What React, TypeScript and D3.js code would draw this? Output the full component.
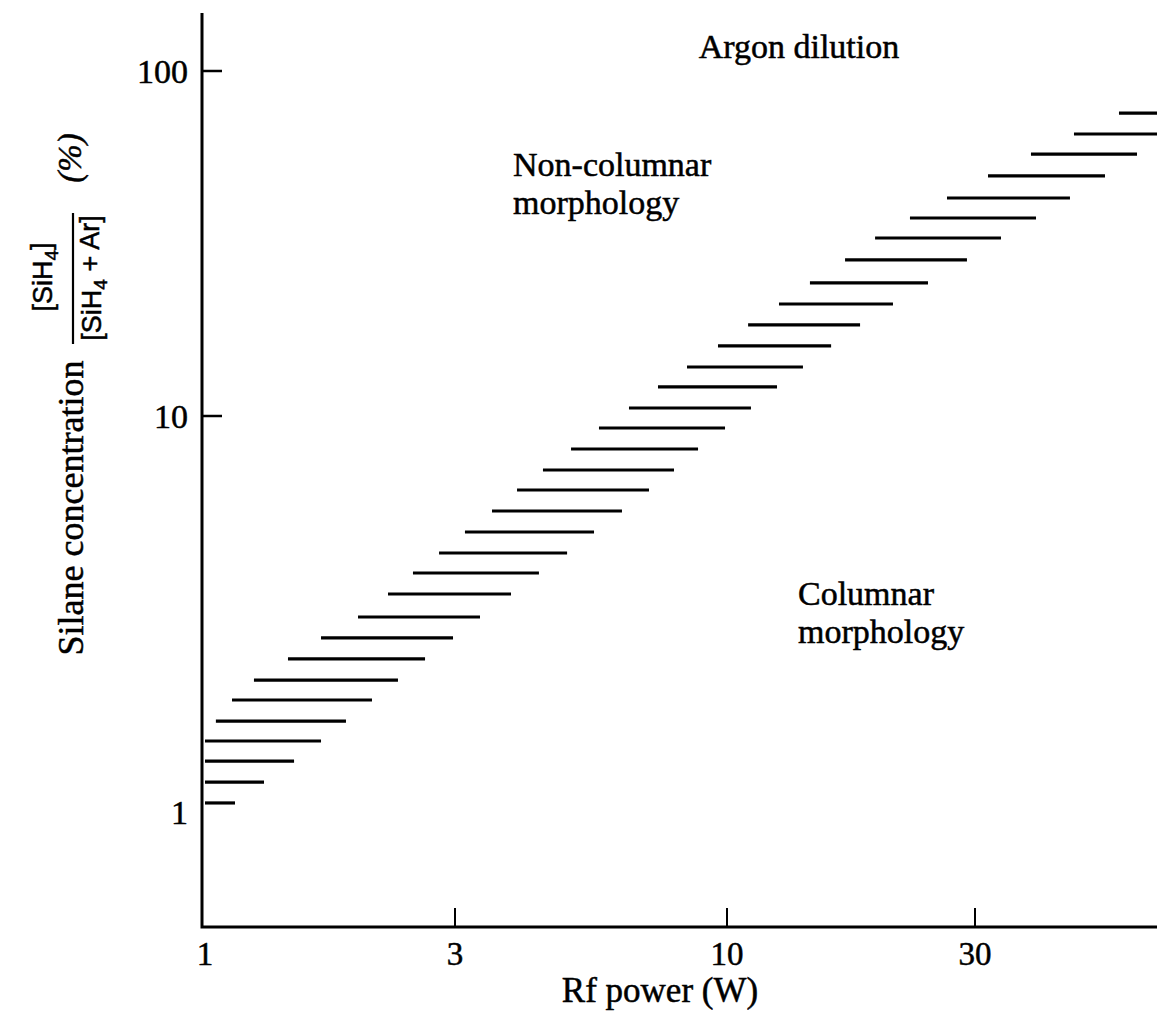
import React, { useEffect, useRef } from "react";
import * as d3 from "d3";

// axis ticks
const powerTicks = [1, 3, 10, 30];
const powerTickLabels = ["1", "3", "10", "30"];
const concTicks = [1, 10, 100];
const concTickLabels = ["1", "10", "100"];

// hatched boundary: one short dash per row (concentration %, from power W, to power W)
const hatchConc = [
  1.054, 1.19, 1.345, 1.511, 1.697, 1.918, 2.154, 2.435, 2.751, 3.108, 3.552, 4.014,
  4.508, 5.094, 5.756, 6.504, 7.305, 8.254, 9.326, 10.55, 12.14, 13.87, 15.96, 18.36,
  21.12, 24.3, 28.33, 32.81, 37.49, 42.84, 49.63, 57.45, 65.68, 75.54,
];
const hatchStart = [
  1.0, 1.0, 1.0, 1.0, 1.049, 1.126, 1.24, 1.44, 1.665, 1.959, 2.235, 2.494, 2.797,
  3.135, 3.534, 3.948, 4.428, 5.014, 5.674, 6.48, 7.368, 8.378, 9.609, 10.98, 12.59,
  14.44, 16.87, 19.27, 22.49, 26.5, 31.78, 38.44, 46.51, 56.77,
];
const hatchEnd = [
  1.141, 1.296, 1.479, 1.665, 1.858, 2.083, 2.335, 2.63, 2.974, 3.351, 3.844, 4.35,
  4.927, 5.551, 6.282, 7.08, 7.909, 8.797, 9.913, 11.12, 12.48, 14.0, 15.86, 18.03,
  20.86, 24.36, 28.95, 33.66, 39.31, 45.69, 53.36, 61.49, 79, 96,
];

const serif = "'Liberation Serif', 'Times New Roman', serif";
const sans = "'Liberation Sans', Arial, sans-serif";

const App = () => {
  const ref = useRef<SVGSVGElement>(null);

  useEffect(() => {
    const width = 1157;
    const left = 202;
    const bottom = 927;
    const top = 13;

    const svg = d3.select(ref.current);
    svg.selectAll("*").remove();

    // the printed decades are not evenly spaced, so map them piecewise
    const x = d3.scaleLog().domain([1, 3, 10, 30]).range([205, 455, 727, 975]);
    const y = d3.scaleLog().domain([1, 10, 100]).range([812, 416, 71]);

    // scanned-print look: a hairline stroke thickens the glyphs a little
    const ink = (sel: any) => sel.attr("fill", "#000").attr("stroke", "#000").attr("stroke-width", 0.5);

    // axes
    svg
      .append("path")
      .attr("d", `M${left},${top}V${bottom}H${width}`)
      .attr("fill", "none")
      .attr("stroke", "#000")
      .attr("stroke-width", 3);

    svg
      .append("g")
      .selectAll("line")
      .data(powerTicks.filter((d) => d > 1))
      .enter()
      .append("line")
      .attr("x1", (d) => x(d))
      .attr("x2", (d) => x(d))
      .attr("y1", bottom)
      .attr("y2", bottom - 19)
      .attr("stroke", "#000")
      .attr("stroke-width", 2);

    svg
      .append("g")
      .selectAll("line")
      .data(concTicks.filter((d) => d > 1))
      .enter()
      .append("line")
      .attr("x1", left)
      .attr("x2", left + 20)
      .attr("y1", (d) => y(d))
      .attr("y2", (d) => y(d))
      .attr("stroke", "#000")
      .attr("stroke-width", 2.5);

    svg
      .append("g")
      .attr("font-family", serif)
      .attr("font-size", 33)
      .attr("text-anchor", "middle")
      .call(ink)
      .selectAll("text")
      .data(powerTicks)
      .enter()
      .append("text")
      .attr("x", (d) => x(d))
      .attr("y", 965)
      .text((d, i) => powerTickLabels[i]);

    svg
      .append("g")
      .attr("font-family", serif)
      .attr("font-size", 34)
      .attr("text-anchor", "end")
      .call(ink)
      .selectAll("text")
      .data(concTicks)
      .enter()
      .append("text")
      .attr("x", 188)
      .attr("y", (d) => y(d))
      .attr("dy", "0.35em")
      .text((d, i) => concTickLabels[i]);

    // boundary hatching
    svg
      .append("g")
      .attr("stroke", "#000")
      .attr("stroke-width", 3.2)
      .selectAll("line")
      .data(hatchConc)
      .enter()
      .append("line")
      .attr("x1", (d, i) => x(hatchStart[i]))
      .attr("x2", (d, i) => x(hatchEnd[i]))
      .attr("y1", (d) => y(d))
      .attr("y2", (d) => y(d));

    // axis titles
    svg
      .append("text")
      .attr("x", 660)
      .attr("y", 1002)
      .attr("text-anchor", "middle")
      .attr("font-family", serif)
      .attr("font-size", 35)
      .call(ink)
      .text("Rf power (W)");

    svg
      .append("text")
      .attr("transform", "translate(83,508) rotate(-90)")
      .attr("text-anchor", "middle")
      .attr("font-family", serif)
      .attr("font-size", 36)
      .call(ink)
      .text("Silane concentration");

    const frac = (tx: number, ty: number, parts: [string, string]) => {
      const t = svg
        .append("text")
        .attr("transform", `translate(${tx},${ty}) rotate(-90)`)
        .attr("text-anchor", "middle")
        .attr("font-family", sans)
        .attr("font-size", 27)
        .call(ink);
      t.append("tspan").text(parts[0]);
      t.append("tspan").attr("font-size", 19).attr("dy", "0.3em").text("4");
      t.append("tspan").attr("dy", "-0.3em").text(parts[1]);
    };
    frac(52, 277, ["[SiH", "]"]);
    frac(101, 278, ["[SiH", " + Ar]"]);
    svg
      .append("line")
      .attr("x1", 73)
      .attr("x2", 73)
      .attr("y1", 213)
      .attr("y2", 344)
      .attr("stroke", "#000")
      .attr("stroke-width", 2.2);

    svg
      .append("text")
      .attr("transform", "translate(81,158) rotate(-90)")
      .attr("text-anchor", "middle")
      .attr("font-family", serif)
      .attr("font-style", "italic")
      .attr("font-size", 33)
      .call(ink)
      .text("(%)");

    // region labels
    const note = (tx: number, ty: number, lines: string[], anchor = "start") => {
      const t = svg
        .append("text")
        .attr("x", tx)
        .attr("y", ty)
        .attr("text-anchor", anchor)
        .attr("font-family", serif)
        .attr("font-size", 34)
        .call(ink);
      lines.forEach((s, i) => {
        t.append("tspan").attr("x", tx).attr("dy", i === 0 ? 0 : 38).text(s);
      });
    };
    note(799, 58, ["Argon dilution"], "middle");
    note(513, 176, ["Non-columnar", "morphology"]);
    note(798, 605, ["Columnar", "morphology"]);
  }, []);

  return (
    <svg
      ref={ref}
      width={1157}
      height={1017}
      style={{ position: "absolute", left: 0, top: 0, background: "#fff" }}
    />
  );
};

export default App;
